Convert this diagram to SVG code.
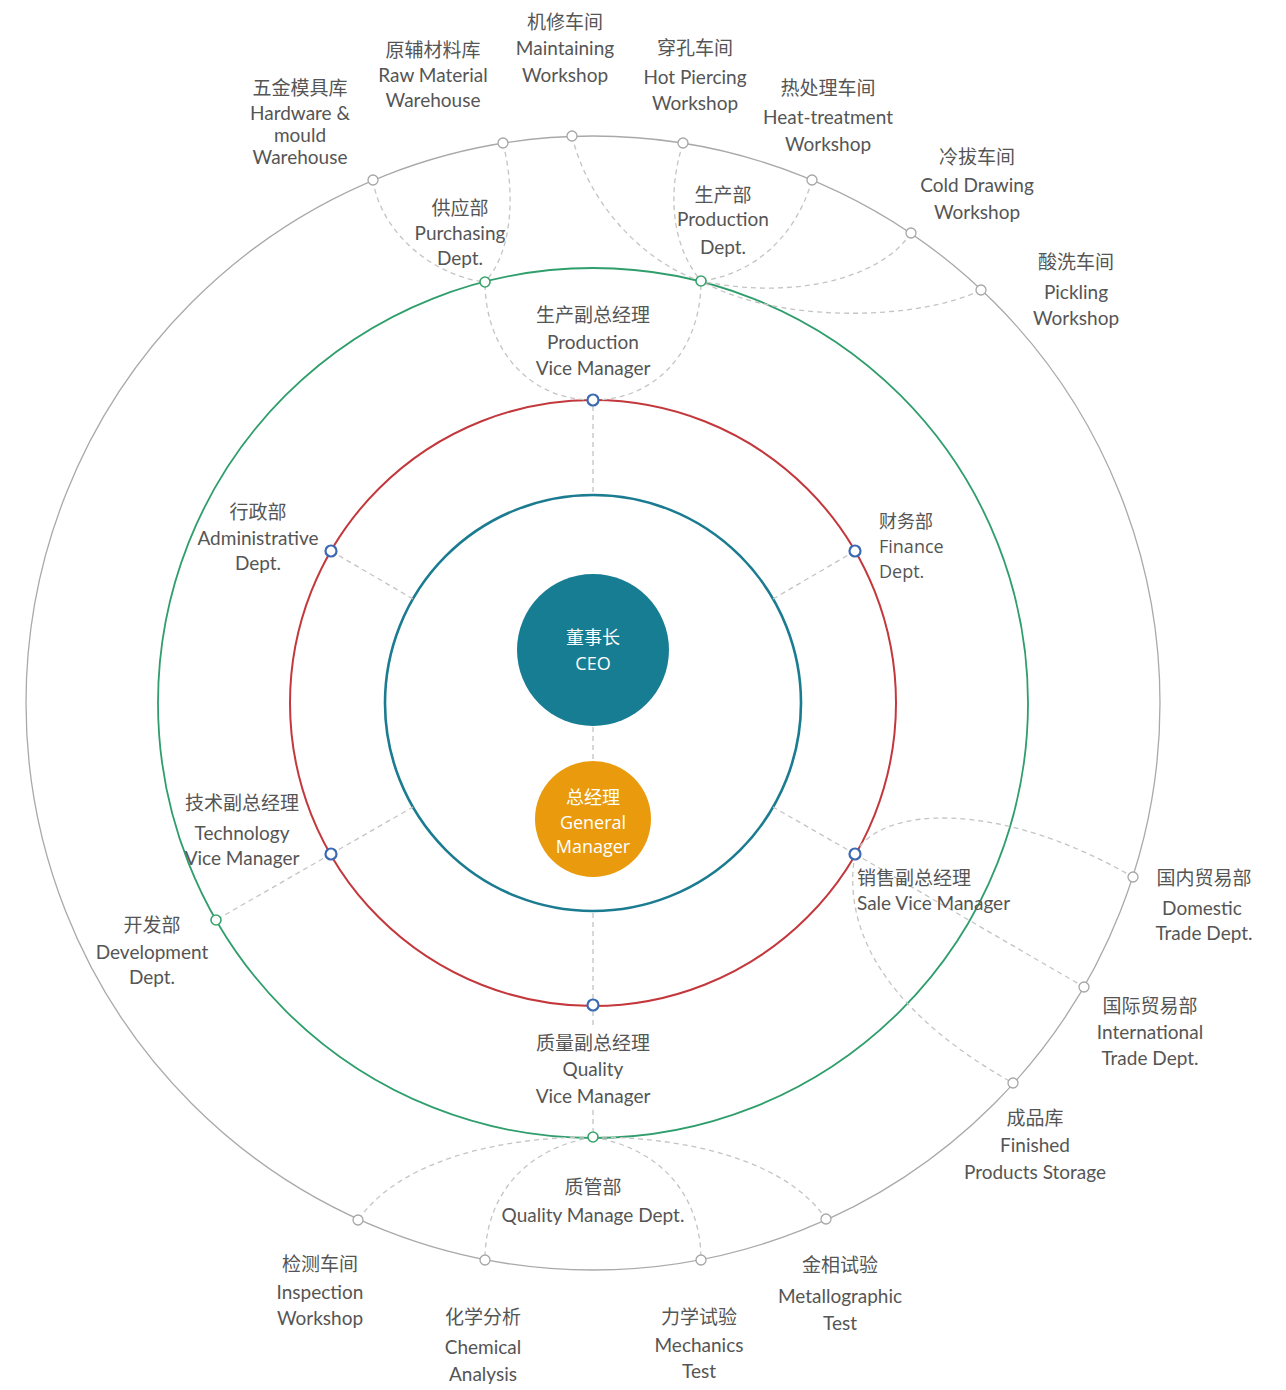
<svg xmlns="http://www.w3.org/2000/svg" width="1286" height="1390" viewBox="0 0 1286 1390">
<style>
  .bg{fill:#ffffff}
  .ring-gray{fill:none;stroke:#a9a9a9;stroke-width:1.3}
  .ring-green{fill:none;stroke:#2f9e6c;stroke-width:1.8}
  .ring-red{fill:none;stroke:#c3383c;stroke-width:2}
  .ring-blue{fill:none;stroke:#1b7b90;stroke-width:2.6}
  .dash{fill:none;stroke:#c4c4c4;stroke-width:1.3;stroke-dasharray:5 4}
  .n-red{fill:#fff;stroke:#3b69b3;stroke-width:2.2}
  .n-green{fill:#fff;stroke:#3aa36c;stroke-width:1.6}
  .n-gray{fill:#fff;stroke:#a6a6a6;stroke-width:1.3}
  text{font-family:"Lato","Noto Sans CJK SC",sans-serif;font-size:19px;fill:#555;text-anchor:middle}
  .zh{font-family:"Noto Sans CJK SC",sans-serif;font-size:19px}
  .seg{font-family:"Open Sans","Noto Sans CJK SC",sans-serif;font-size:18px}
  .left{text-anchor:start}
  .white{fill:#ffffff}
</style>
<rect class="bg" x="0" y="0" width="1286" height="1390"/>

<g id="rings">
  <circle class="ring-gray" cx="593" cy="703" r="567"/>
  <circle class="ring-green" cx="593" cy="703" r="435"/>
  <circle class="ring-red" cx="593" cy="703" r="303"/>
  <circle class="ring-blue" cx="593" cy="703" r="208"/>
</g>

<g id="connectors">
  <!-- CEO to GM -->
  <line class="dash" x1="593" y1="727" x2="593" y2="761"/>
  <!-- red nodes to blue ring -->
  <line class="dash" x1="593" y1="406" x2="593" y2="495"/>
  <line class="dash" x1="593" y1="999" x2="593" y2="911"/>
  <line class="dash" x1="331" y1="551" x2="413" y2="599"/>
  <line class="dash" x1="855" y1="551" x2="773" y2="599"/>
  <line class="dash" x1="331" y1="854" x2="413" y2="807"/>
  <line class="dash" x1="855" y1="854" x2="773" y2="807"/>
  <!-- Production VM to Purchasing / Production depts -->
  <path class="dash" d="M593,400 C530,400 485,350 485,282"/>
  <path class="dash" d="M593,400 C656,400 701,350 701,281"/>
  <!-- Purchasing to warehouses -->
  <path class="dash" d="M373,180 C380,230 430,275 485,282"/>
  <path class="dash" d="M503,143 C517,200 510,255 485,282"/>
  <!-- Production dept to workshops -->
  <path class="dash" d="M572,136 C590,210 650,265 701,281"/>
  <path class="dash" d="M683,143 C665,200 675,250 701,281"/>
  <path class="dash" d="M812,180 C795,240 750,275 701,281"/>
  <path class="dash" d="M911,233 C880,280 790,300 701,281"/>
  <path class="dash" d="M981,290 C920,320 780,325 701,281"/>
  <!-- Tech VM to Development -->
  <line class="dash" x1="331" y1="854" x2="216" y2="920"/>
  <!-- Sale VM to trade depts / storage -->
  <path class="dash" d="M855,854 C880,805 1000,800 1133,877"/>
  <line class="dash" x1="855" y1="854" x2="1084" y2="987"/>
  <path class="dash" d="M855,854 C840,940 900,1020 1013,1083"/>
  <!-- Quality VM to Quality dept -->
  <line class="dash" x1="593" y1="1011" x2="593" y2="1026"/>
  <line class="dash" x1="593" y1="1110" x2="593" y2="1131"/>
  <!-- Quality dept to tests -->
  <path class="dash" d="M593,1137 C500,1137 400,1160 358,1220"/>
  <path class="dash" d="M593,1137 C520,1150 485,1200 485,1260"/>
  <path class="dash" d="M593,1137 C666,1150 701,1200 701,1260"/>
  <path class="dash" d="M593,1137 C686,1137 786,1160 826,1219"/>
</g>

<g id="ceo">
  <circle cx="593" cy="650" r="76" fill="#177d93"/>
  <text class="seg white" x="593" y="644" font-size="20">董事长</text>
  <text class="seg white" x="593" y="670" font-size="20">CEO</text>
</g>
<g id="gm">
  <circle cx="593" cy="819" r="58" fill="#e99b0d"/>
  <text class="seg white" x="593" y="804" font-size="19">总经理</text>
  <text class="seg white" x="593" y="829">General</text>
  <text class="seg white" x="593" y="853">Manager</text>
</g>

<g id="production-vm">
  <circle class="n-red" cx="593" cy="400" r="5.5"/>
  <text class="zh" x="593" y="322">生产副总经理</text>
  <text x="593" y="349">Production</text>
  <text x="593" y="375">Vice Manager</text>
</g>
<g id="admin-dept">
  <circle class="n-red" cx="331" cy="551" r="5.5"/>
  <text class="zh" x="258" y="519">行政部</text>
  <text x="258" y="545">Administrative</text>
  <text x="258" y="570">Dept.</text>
</g>
<g id="finance-dept">
  <circle class="n-red" cx="855" cy="551" r="5.5"/>
  <text class="seg left" x="879" y="528" font-size="19">财务部</text>
  <text class="seg left" x="879" y="553">Finance</text>
  <text class="seg left" x="879" y="578">Dept.</text>
</g>
<g id="tech-vm">
  <circle class="n-red" cx="331" cy="854" r="5.5"/>
  <text class="zh" x="242" y="810">技术副总经理</text>
  <text x="242" y="840">Technology</text>
  <text x="242" y="865">Vice Manager</text>
</g>
<g id="sale-vm">
  <circle class="n-red" cx="855" cy="854" r="5.5"/>
  <text class="zh left" x="857" y="885">销售副总经理</text>
  <text class="left" x="857" y="910">Sale Vice Manager</text>
</g>
<g id="quality-vm">
  <circle class="n-red" cx="593" cy="1005" r="5.5"/>
  <text class="zh" x="593" y="1050">质量副总经理</text>
  <text x="593" y="1076">Quality</text>
  <text x="593" y="1103">Vice Manager</text>
</g>

<g id="purchasing-dept">
  <circle class="n-green" cx="485" cy="282" r="5"/>
  <text class="zh" x="460" y="215">供应部</text>
  <text x="460" y="240">Purchasing</text>
  <text x="460" y="265">Dept.</text>
</g>
<g id="production-dept">
  <circle class="n-green" cx="701" cy="281" r="5"/>
  <text class="zh" x="723" y="202">生产部</text>
  <text x="723" y="226">Production</text>
  <text x="723" y="254">Dept.</text>
</g>
<g id="development-dept">
  <circle class="n-green" cx="216" cy="920" r="5"/>
  <text class="zh" x="152" y="932">开发部</text>
  <text x="152" y="959">Development</text>
  <text x="152" y="984">Dept.</text>
</g>
<g id="quality-dept">
  <circle class="n-green" cx="593" cy="1137" r="5"/>
  <text class="zh" x="593" y="1194">质管部</text>
  <text x="593" y="1222">Quality Manage Dept.</text>
</g>

<g id="hardware-warehouse">
  <circle class="n-gray" cx="373" cy="180" r="5"/>
  <text class="zh" x="300" y="95">五金模具库</text>
  <text x="300" y="120">Hardware &amp;</text>
  <text x="300" y="142">mould</text>
  <text x="300" y="164">Warehouse</text>
</g>
<g id="raw-material-warehouse">
  <circle class="n-gray" cx="503" cy="143" r="5"/>
  <text class="zh" x="433" y="57">原辅材料库</text>
  <text x="433" y="82">Raw Material</text>
  <text x="433" y="107">Warehouse</text>
</g>
<g id="maintaining-workshop">
  <circle class="n-gray" cx="572" cy="136" r="5"/>
  <text class="zh" x="565" y="29">机修车间</text>
  <text x="565" y="55">Maintaining</text>
  <text x="565" y="82">Workshop</text>
</g>
<g id="hot-piercing-workshop">
  <circle class="n-gray" cx="683" cy="143" r="5"/>
  <text class="zh" x="695" y="55">穿孔车间</text>
  <text x="695" y="84">Hot Piercing</text>
  <text x="695" y="110">Workshop</text>
</g>
<g id="heat-treatment-workshop">
  <circle class="n-gray" cx="812" cy="180" r="5"/>
  <text class="zh" x="828" y="95">热处理车间</text>
  <text x="828" y="124">Heat-treatment</text>
  <text x="828" y="151">Workshop</text>
</g>
<g id="cold-drawing-workshop">
  <circle class="n-gray" cx="911" cy="233" r="5"/>
  <text class="zh" x="977" y="164">冷拔车间</text>
  <text x="977" y="192">Cold Drawing</text>
  <text x="977" y="219">Workshop</text>
</g>
<g id="pickling-workshop">
  <circle class="n-gray" cx="981" cy="290" r="5"/>
  <text class="zh" x="1076" y="269">酸洗车间</text>
  <text x="1076" y="299">Pickling</text>
  <text x="1076" y="325">Workshop</text>
</g>
<g id="domestic-trade-dept">
  <circle class="n-gray" cx="1133" cy="877" r="5"/>
  <text class="zh" x="1204" y="885">国内贸易部</text>
  <text x="1202" y="915">Domestic</text>
  <text x="1204" y="940">Trade Dept.</text>
</g>
<g id="international-trade-dept">
  <circle class="n-gray" cx="1084" cy="987" r="5"/>
  <text class="zh" x="1150" y="1013">国际贸易部</text>
  <text x="1150" y="1039">International</text>
  <text x="1150" y="1065">Trade Dept.</text>
</g>
<g id="finished-products-storage">
  <circle class="n-gray" cx="1013" cy="1083" r="5"/>
  <text class="zh" x="1035" y="1125">成品库</text>
  <text x="1035" y="1152">Finished</text>
  <text x="1035" y="1179">Products Storage</text>
</g>
<g id="inspection-workshop">
  <circle class="n-gray" cx="358" cy="1220" r="5"/>
  <text class="zh" x="320" y="1271">检测车间</text>
  <text x="320" y="1299">Inspection</text>
  <text x="320" y="1325">Workshop</text>
</g>
<g id="chemical-analysis">
  <circle class="n-gray" cx="485" cy="1260" r="5"/>
  <text class="zh" x="483" y="1324">化学分析</text>
  <text x="483" y="1354">Chemical</text>
  <text x="483" y="1381">Analysis</text>
</g>
<g id="mechanics-test">
  <circle class="n-gray" cx="701" cy="1260" r="5"/>
  <text class="zh" x="699" y="1324">力学试验</text>
  <text x="699" y="1352">Mechanics</text>
  <text x="699" y="1378">Test</text>
</g>
<g id="metallographic-test">
  <circle class="n-gray" cx="826" cy="1219" r="5"/>
  <text class="zh" x="840" y="1272">金相试验</text>
  <text x="840" y="1303">Metallographic</text>
  <text x="840" y="1330">Test</text>
</g>
</svg>
